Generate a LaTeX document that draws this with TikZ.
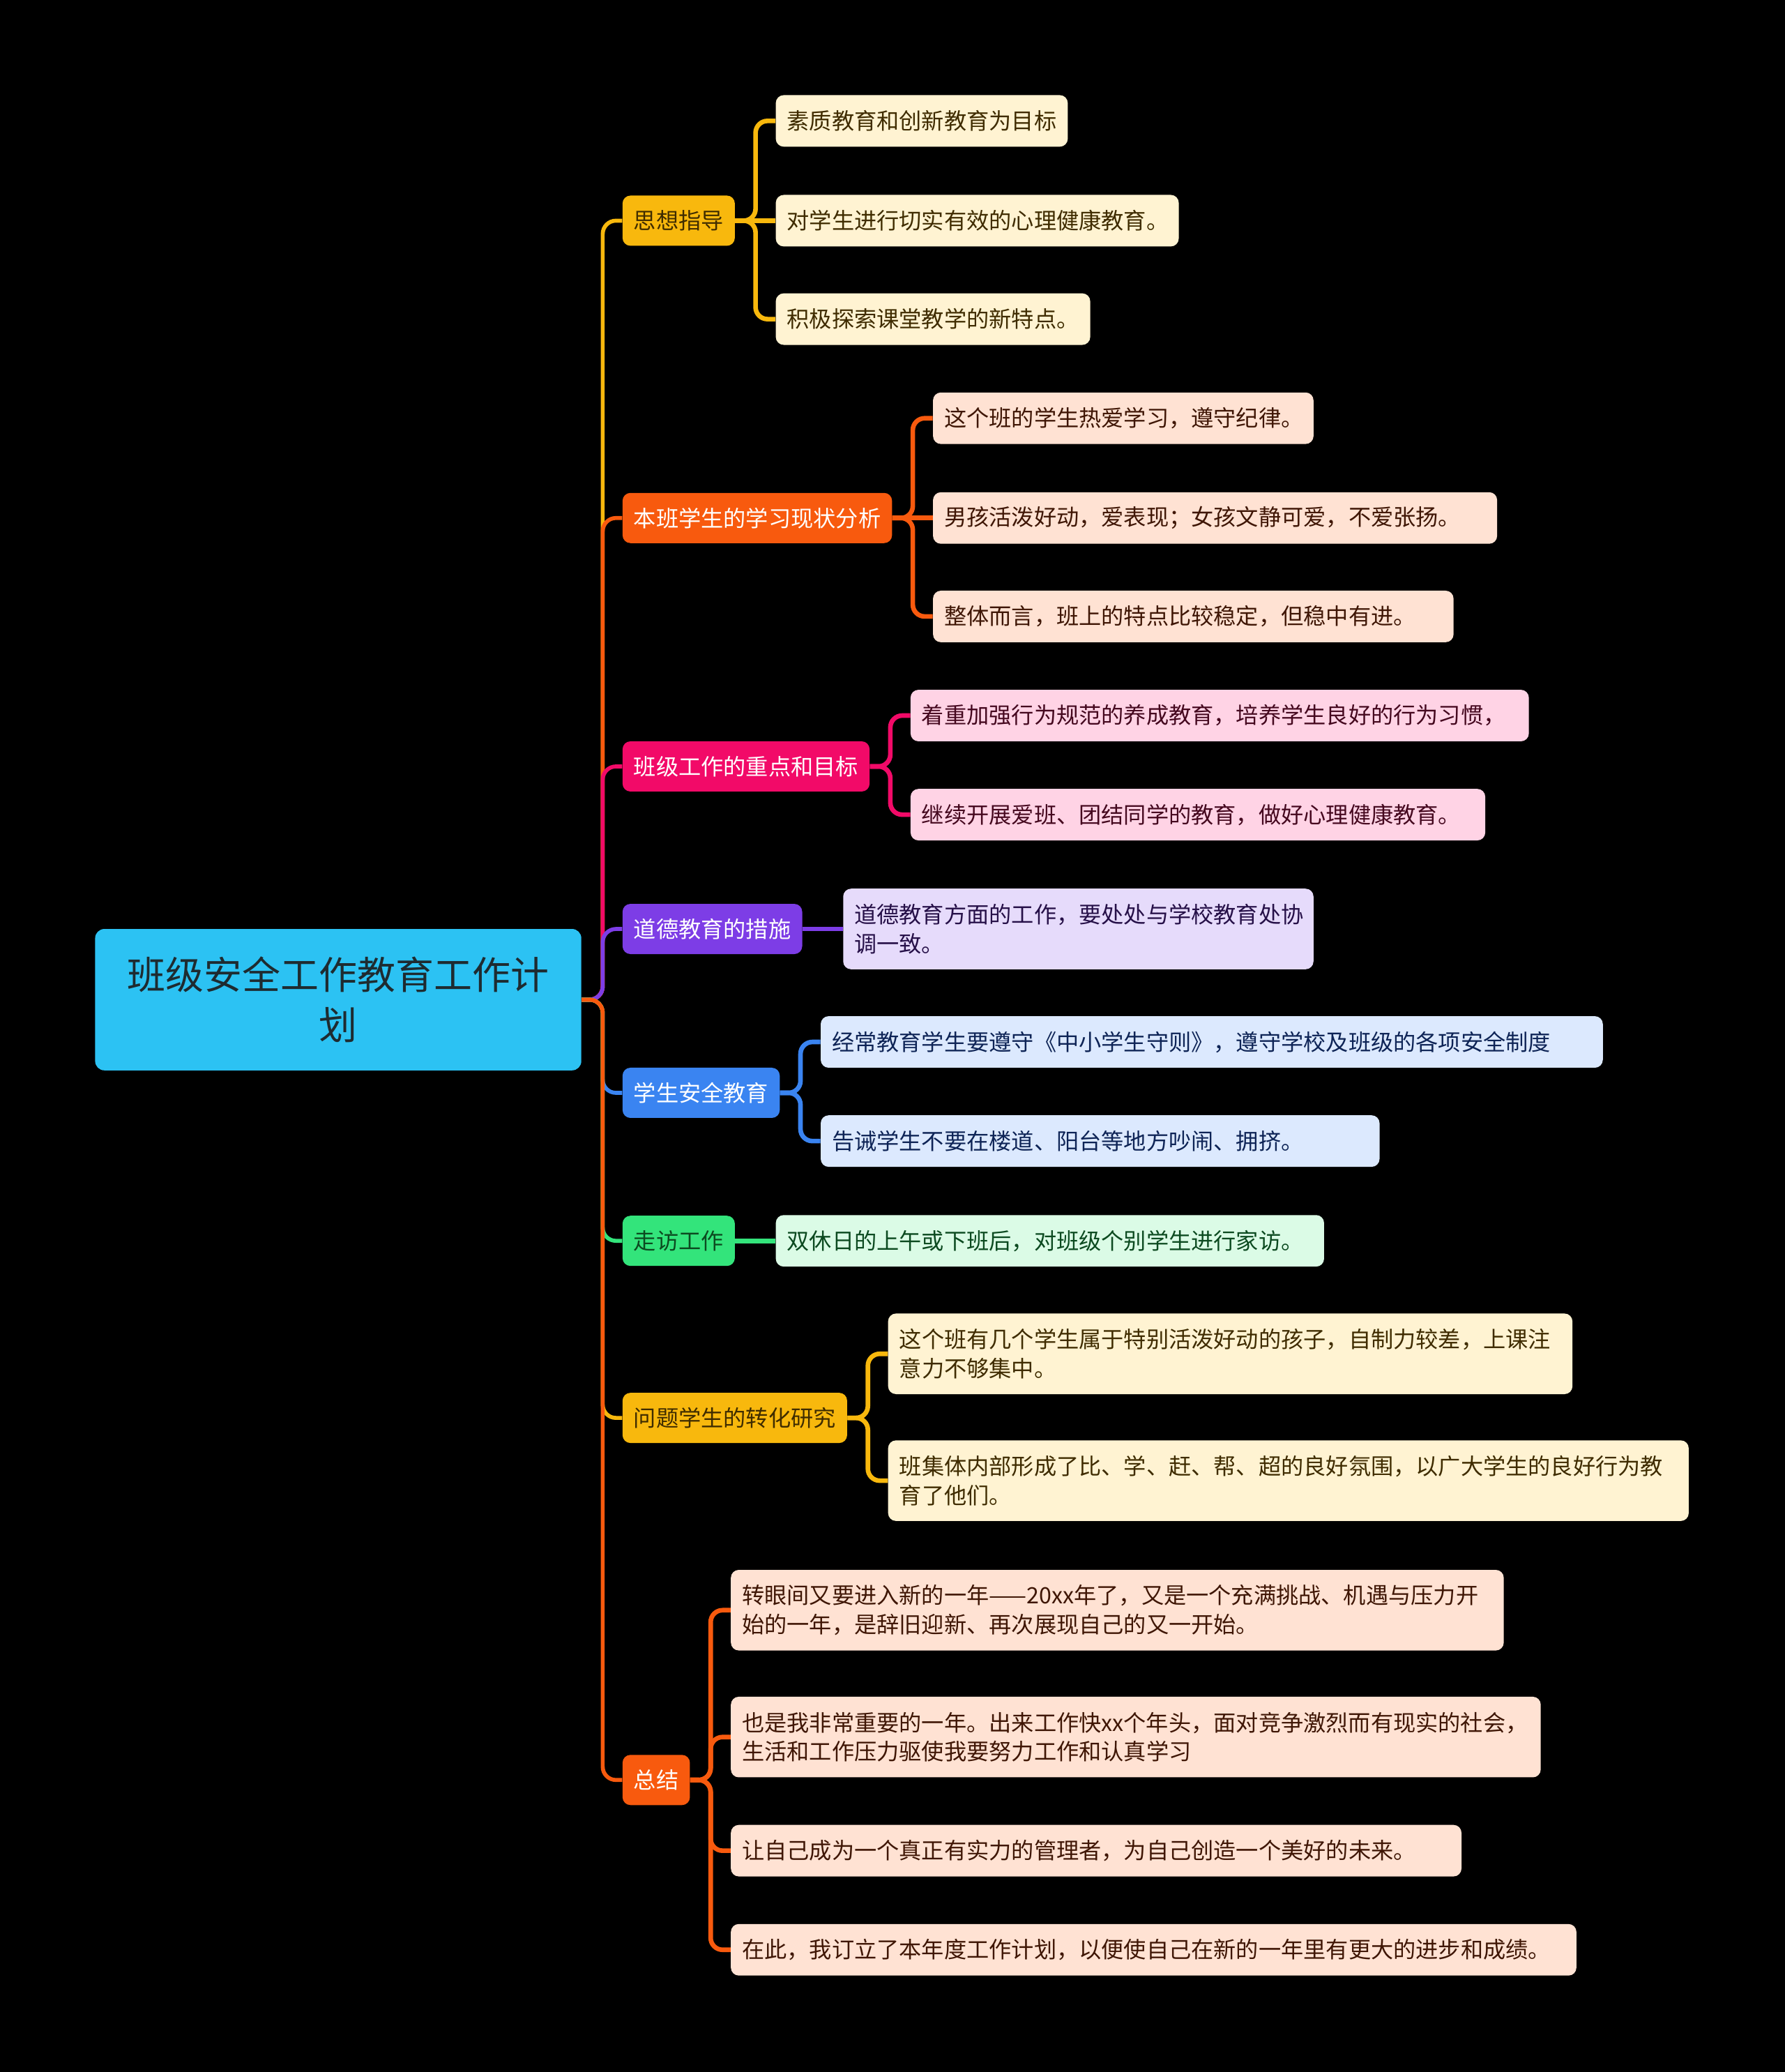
\documentclass[tikz,border=0pt]{standalone}
\usepackage{fontspec}
\setmainfont{Noto Sans CJK SC}
\usetikzlibrary{backgrounds}
\definecolor{rootc}{HTML}{2CC2F3}
\definecolor{roottx}{HTML}{1E2B30}
\definecolor{cY}{HTML}{F8B80D}
\definecolor{cO}{HTML}{F85A0E}
\definecolor{cP}{HTML}{F20A68}
\definecolor{cV}{HTML}{7D3DE6}
\definecolor{cB}{HTML}{3A84F1}
\definecolor{cG}{HTML}{33E47B}
\definecolor{lY}{HTML}{FFF3D2}
\definecolor{lO}{HTML}{FFE2D3}
\definecolor{lP}{HTML}{FFD3E5}
\definecolor{lV}{HTML}{E6DBFB}
\definecolor{lB}{HTML}{DCE9FE}
\definecolor{lG}{HTML}{DBFBE6}
\definecolor{tY}{HTML}{3F2C00}
\definecolor{tO}{HTML}{3F1605}
\definecolor{tP}{HTML}{45081F}
\definecolor{tV}{HTML}{261048}
\definecolor{tB}{HTML}{0E2456}
\definecolor{tG}{HTML}{0C4A20}
\tikzset{
  rootbox/.style={fill=rootc, text=roottx, rounded corners=7pt, minimum width=368pt,
    minimum height=107pt, align=center, inner sep=0pt, font=\fontsize{29}{38}\selectfont},
  brbox/.style={rounded corners=6pt, inner xsep=8.5pt, inner ysep=0pt, minimum height=38pt,
    anchor=west, font=\fontsize{17}{22}\selectfont},
  leafbox/.style={rounded corners=6pt, inner xsep=8.5pt, inner ysep=0pt, minimum height=39pt,
    anchor=west, align=left, text width=#1-17pt, font=\fontsize{17}{22}\selectfont},
  leaftwo/.style={leafbox=#1, minimum height=61pt},
  trunkln/.style={draw=#1, line width=3pt, rounded corners=10pt},
  connln/.style={draw=#1, line width=3.5pt, rounded corners=9pt},
}
\begin{document}
\begin{tikzpicture}[x=1pt,y=-1pt]
\useasboundingbox (0,0) rectangle (1351,1568);

% root
\node[rootbox] (root) at (256,756.5) {班级安全工作教育工作计\\划};

% branches
\node[brbox, fill=cY, text=tY] (b1) at (471,167) {思想指导};
\node[brbox, fill=cO, text=white] (b2) at (471,392) {本班学生的学习现状分析};
\node[brbox, fill=cP, text=white] (b3) at (471,580) {班级工作的重点和目标};
\node[brbox, fill=cV, text=white] (b4) at (471,703) {道德教育的措施};
\node[brbox, fill=cB, text=white] (b5) at (471,827) {学生安全教育};
\node[brbox, fill=cG, text=tG] (b6) at (471,939) {走访工作};
\node[brbox, fill=cY, text=tY] (b7) at (471,1073) {问题学生的转化研究};
\node[brbox, fill=cO, text=white] (b8) at (471,1347) {总结};

% leaves
\node[leafbox=221pt, fill=lY, text=tY] (l11) at (587,91.5) {素质教育和创新教育为目标};
\node[leafbox=305pt, fill=lY, text=tY] (l12) at (587,167) {对学生进行切实有效的心理健康教育。};
\node[leafbox=238pt, fill=lY, text=tY] (l13) at (587,241.5) {积极探索课堂教学的新特点。};

\node[leafbox=288pt, fill=lO, text=tO] (l21) at (706,316.5) {这个班的学生热爱学习，遵守纪律。};
\node[leafbox=427pt, fill=lO, text=tO] (l22) at (706,392) {男孩活泼好动，爱表现；女孩文静可爱，不爱张扬。};
\node[leafbox=394pt, fill=lO, text=tO] (l23) at (706,466.5) {整体而言，班上的特点比较稳定，但稳中有进。};

\node[leafbox=468pt, fill=lP, text=tP] (l31) at (689,541.5) {着重加强行为规范的养成教育，培养学生良好的行为习惯，};
\node[leafbox=435pt, fill=lP, text=tP] (l32) at (689,616.5) {继续开展爱班、团结同学的教育，做好心理健康教育。};

\node[leaftwo=356pt, fill=lV, text=tV] (l41) at (638,703) {道德教育方面的工作，要处处与学校教育处协\\调一致。};

\node[leafbox=592pt, fill=lB, text=tB] (l51) at (621,788.5) {经常教育学生要遵守《中小学生守则》，遵守学校及班级的各项安全制度};
\node[leafbox=423pt, fill=lB, text=tB] (l52) at (621,863.5) {告诫学生不要在楼道、阳台等地方吵闹、拥挤。};

\node[leafbox=415pt, fill=lG, text=tG] (l61) at (587,939) {双休日的上午或下班后，对班级个别学生进行家访。};

\node[leaftwo=518pt, fill=lY, text=tY] (l71) at (672,1024.5) {这个班有几个学生属于特别活泼好动的孩子，自制力较差，上课注\\意力不够集中。};
\node[leaftwo=606pt, fill=lY, text=tY] (l72) at (672,1120.5) {班集体内部形成了比、学、赶、帮、超的良好氛围，以广大学生的良好行为教\\育了他们。};

\node[leaftwo=585pt, fill=lO, text=tO] (l81) at (553,1218.5) {转眼间又要进入新的一年——20xx年了，又是一个充满挑战、机遇与压力开\\始的一年，是辞旧迎新、再次展现自己的又一开始。};
\node[leaftwo=613pt, fill=lO, text=tO] (l82) at (553,1314.5) {也是我非常重要的一年。出来工作快xx个年头，面对竞争激烈而有现实的社会，\\生活和工作压力驱使我要努力工作和认真学习};
\node[leafbox=553pt, fill=lO, text=tO] (l83) at (553,1400.5) {让自己成为一个真正有实力的管理者，为自己创造一个美好的未来。};
\node[leafbox=640pt, fill=lO, text=tO] (l84) at (553,1475.5) {在此，我订立了本年度工作计划，以便使自己在新的一年里有更大的进步和成绩。};

\begin{scope}[on background layer]
\fill[black] (0,0) rectangle (1351,1568);
% trunk: root to branches
\draw[trunkln=cY] (root.east) -- ++(16,0) |- (b1.west);
\draw[trunkln=cO] (root.east) -- ++(16,0) |- (b2.west);
\draw[trunkln=cP] (root.east) -- ++(16,0) |- (b3.west);
\draw[trunkln=cV] (root.east) -- ++(16,0) |- (b4.west);
\draw[trunkln=cB] (root.east) -- ++(16,0) |- (b5.west);
\draw[trunkln=cG] (root.east) -- ++(16,0) |- (b6.west);
\draw[trunkln=cY] (root.east) -- ++(16,0) |- (b7.west);
\draw[trunkln=cO] (root.east) -- ++(16,0) |- (b8.west);
% branch to leaves
\draw[connln=cY] (b1.east) -- ++(15.5,0) |- (l11.west);
\draw[connln=cY] (b1.east) -- (l12.west);
\draw[connln=cY] (b1.east) -- ++(15.5,0) |- (l13.west);
\draw[connln=cO] (b2.east) -- ++(15.5,0) |- (l21.west);
\draw[connln=cO] (b2.east) -- (l22.west);
\draw[connln=cO] (b2.east) -- ++(15.5,0) |- (l23.west);
\draw[connln=cP] (b3.east) -- ++(15.5,0) |- (l31.west);
\draw[connln=cP] (b3.east) -- ++(15.5,0) |- (l32.west);
\draw[connln=cV] (b4.east) -- (l41.west);
\draw[connln=cB] (b5.east) -- ++(15.5,0) |- (l51.west);
\draw[connln=cB] (b5.east) -- ++(15.5,0) |- (l52.west);
\draw[connln=cG] (b6.east) -- (l61.west);
\draw[connln=cY] (b7.east) -- ++(15.5,0) |- (l71.west);
\draw[connln=cY] (b7.east) -- ++(15.5,0) |- (l72.west);
\draw[connln=cO] (b8.east) -- ++(15.5,0) |- (l81.west);
\draw[connln=cO] (b8.east) -- ++(15.5,0) |- (l82.west);
\draw[connln=cO] (b8.east) -- ++(15.5,0) |- (l83.west);
\draw[connln=cO] (b8.east) -- ++(15.5,0) |- (l84.west);
\end{scope}
\end{tikzpicture}
\end{document}
